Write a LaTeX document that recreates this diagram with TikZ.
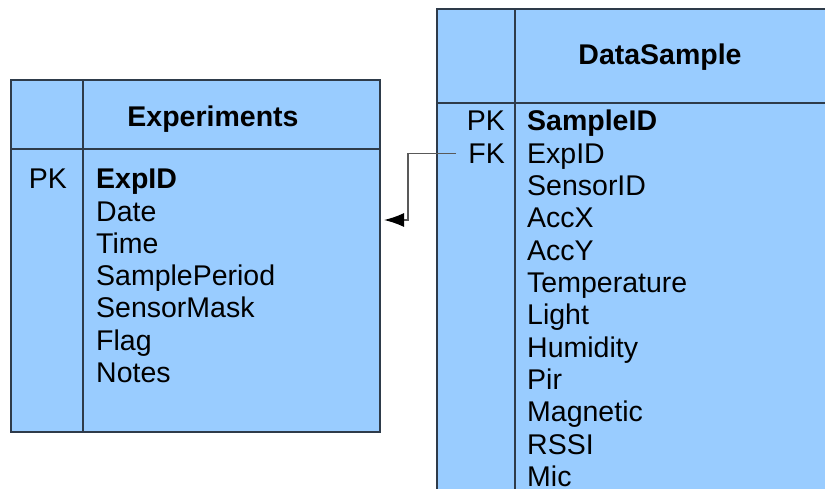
\documentclass[tikz,border=0pt]{standalone}
\usepackage{fontspec}
\setmainfont{Liberation Sans}
\usetikzlibrary{arrows.meta}
\definecolor{tblfill}{HTML}{99CCFF}
\definecolor{tblline}{HTML}{2E3B4A}

\begin{document}
\begin{tikzpicture}[x=1pt,y=-1pt,tbl/.style={draw=tblline,fill=tblfill,line width=1.4pt},
  every node/.style={inner sep=0pt,font=\fontsize{28.5}{32}\selectfont},
  bold/.style={font=\fontsize{28.5}{32}\selectfont\bfseries},
  link/.style={draw=black!65,line width=1.5pt,-{Latex[length=20pt,width=14pt,color=black]}}]
  \useasboundingbox (0,0) rectangle (825,489);
  \clip (0,0) rectangle (825,489);
  % Experiments
  \draw[tbl] (11,80) rectangle (380,149);
  \draw[tbl] (11,149) rectangle (380,432);
  \draw[tblline,line width=1.4pt] (83,80) -- (83,432);
  \node[anchor=base,bold] (exptitle) at (213,127) {Experiments};
  \node[anchor=base east] (exppk) at (67,189) {PK};
  \node[anchor=base west,bold] (expid) at (96,189) {ExpID};
  \foreach \f [count=\i] in {Date,Time,SamplePeriod,SensorMask,Flag,Notes}
    \node[anchor=base west] (exp\i) at (96,189+32.2*\i) {\f};
  % DataSample
  \draw[tbl] (437,9) rectangle (840,103);
  \draw[tbl] (437,103) rectangle (840,500);
  \draw[tblline,line width=1.4pt] (515,9) -- (515,500);
  \node[anchor=base,bold] (dstitle) at (660,65) {DataSample};
  \node[anchor=base east] (dspk) at (505,131) {PK};
  \node[anchor=base east] (fk) at (505,163.3) {FK};
  \node[anchor=base west,bold] (sampleid) at (527,131) {SampleID};
  \foreach \f [count=\i] in {ExpID,SensorID,AccX,AccY,Temperature,Light,Humidity,Pir,Magnetic,RSSI,Mic}
    \node[anchor=base west] (ds\i) at (527,131+32.3*\i) {\f};
  % foreign key
  \coordinate (fkend) at (384,220);
  \draw[link] (fk.west) ++(-12,0) -- ++(-48,0) |- (fkend);
\end{tikzpicture}
\end{document}
